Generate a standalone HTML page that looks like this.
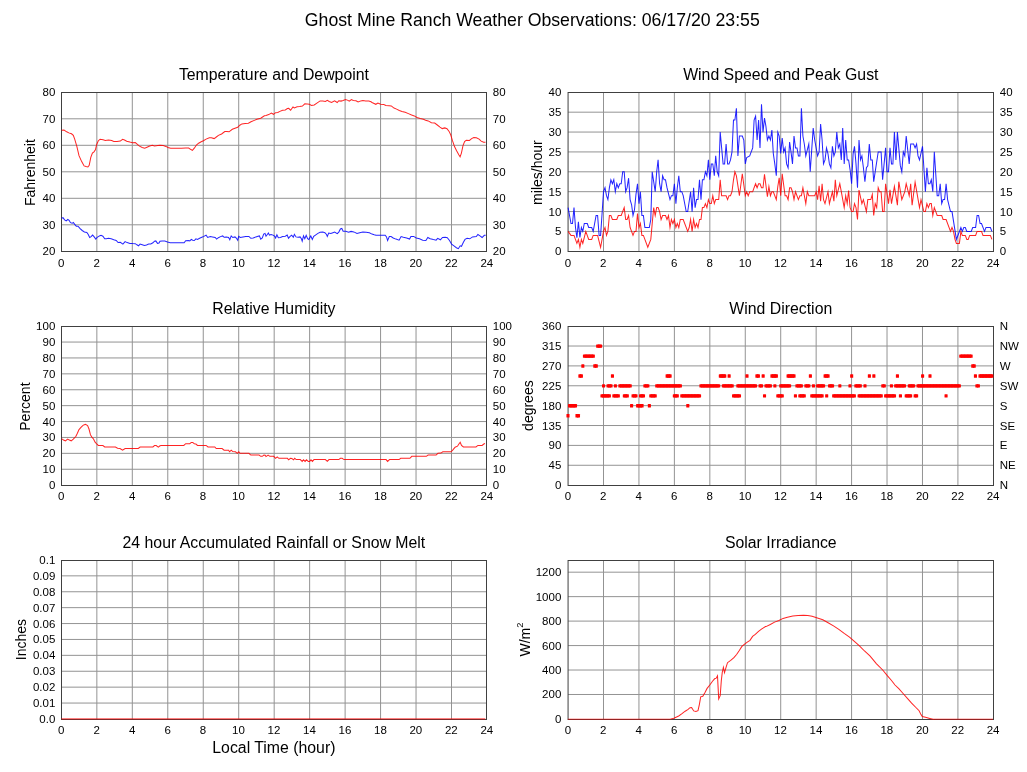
<!DOCTYPE html>
<html lang="en"><head><meta charset="utf-8"><title>Ghost Mine Ranch Weather Observations</title>
<style>html,body{margin:0;padding:0;background:#fff}body{width:1027px;height:772px;overflow:hidden}svg{display:block}</style></head>
<body>
<svg width="1027" height="772" viewBox="0 0 1027 772" font-family="'Liberation Sans', Arial, Helvetica, sans-serif" fill="#000">
<rect width="1027" height="772" fill="#fff"/>
<text x="532.3" y="26.4" font-size="17.7" text-anchor="middle">Ghost Mine Ranch Weather Observations: 06/17/20 23:55</text>
<g stroke="#939393" stroke-width="1" fill="none"><line x1="96.85" y1="92.5" x2="96.85" y2="251.5"/><line x1="132.31" y1="92.5" x2="132.31" y2="251.5"/><line x1="167.78" y1="92.5" x2="167.78" y2="251.5"/><line x1="203.25" y1="92.5" x2="203.25" y2="251.5"/><line x1="238.71" y1="92.5" x2="238.71" y2="251.5"/><line x1="274.18" y1="92.5" x2="274.18" y2="251.5"/><line x1="309.64" y1="92.5" x2="309.64" y2="251.5"/><line x1="345.11" y1="92.5" x2="345.11" y2="251.5"/><line x1="380.57" y1="92.5" x2="380.57" y2="251.5"/><line x1="416.04" y1="92.5" x2="416.04" y2="251.5"/><line x1="451.50" y1="92.5" x2="451.50" y2="251.5"/><line x1="61.5" y1="224.80" x2="486.5" y2="224.80"/><line x1="61.5" y1="198.30" x2="486.5" y2="198.30"/><line x1="61.5" y1="171.80" x2="486.5" y2="171.80"/><line x1="61.5" y1="145.30" x2="486.5" y2="145.30"/><line x1="61.5" y1="118.80" x2="486.5" y2="118.80"/></g>
<rect x="61.5" y="92.5" width="425.00" height="159" fill="none" stroke="#404040" stroke-width="1"/>
<text x="273.9" y="80.2" font-size="15.83" text-anchor="middle">Temperature and Dewpoint</text>
<g font-size="11.5"><text x="61.2" y="267" text-anchor="middle">0</text><text x="96.6" y="267" text-anchor="middle">2</text><text x="132.1" y="267" text-anchor="middle">4</text><text x="167.6" y="267" text-anchor="middle">6</text><text x="203.0" y="267" text-anchor="middle">8</text><text x="238.5" y="267" text-anchor="middle">10</text><text x="274.0" y="267" text-anchor="middle">12</text><text x="309.4" y="267" text-anchor="middle">14</text><text x="344.9" y="267" text-anchor="middle">16</text><text x="380.4" y="267" text-anchor="middle">18</text><text x="415.8" y="267" text-anchor="middle">20</text><text x="451.3" y="267" text-anchor="middle">22</text><text x="486.8" y="267" text-anchor="middle">24</text><text x="55.3" y="255" text-anchor="end">20</text><text x="55.3" y="229" text-anchor="end">30</text><text x="55.3" y="202" text-anchor="end">40</text><text x="55.3" y="176" text-anchor="end">50</text><text x="55.3" y="149" text-anchor="end">60</text><text x="55.3" y="123" text-anchor="end">70</text><text x="55.3" y="96" text-anchor="end">80</text><text x="492.8" y="255">20</text><text x="492.8" y="229">30</text><text x="492.8" y="202">40</text><text x="492.8" y="176">50</text><text x="492.8" y="149">60</text><text x="492.8" y="123">70</text><text x="492.8" y="96">80</text></g>
<text transform="translate(35,172.6) rotate(-90)" font-size="14" text-anchor="middle">Fahrenheit</text>
<path d="M61.6,130.3 L64.0,130.0 L66.7,131.8 L68.8,132.9 L71.5,133.8 L73.3,135.4 L74.7,139.1 L76.9,146.6 L79.0,155.7 L81.7,161.6 L84.1,165.9 L86.0,166.6 L87.9,167.0 L89.2,165.4 L90.8,157.3 L92.4,153.1 L94.0,151.8 L95.4,149.8 L96.7,144.5 L98.3,140.7 L100.1,139.3 L103.1,139.8 L105.3,140.4 L108.5,140.0 L111.7,140.6 L113.8,141.5 L117.0,141.5 L120.3,141.1 L122.6,139.3 L124.5,140.0 L126.7,141.3 L129.9,142.1 L132.6,142.7 L135.3,142.6 L137.4,144.3 L139.5,146.1 L142.2,147.5 L144.7,148.2 L147.0,147.2 L149.7,146.1 L152.4,145.3 L154.5,146.1 L157.8,145.6 L160.0,145.3 L163.2,145.6 L165.9,146.4 L168.0,147.5 L170.7,148.2 L176.1,148.2 L181.4,148.2 L185.7,148.1 L188.7,148.1 L190.5,149.3 L192.4,150.4 L194.3,148.2 L196.4,145.0 L198.6,143.2 L201.2,141.8 L203.4,140.7 L206.1,139.1 L209.3,137.8 L211.4,137.8 L214.1,138.6 L215.7,137.5 L218.4,135.4 L221.6,134.0 L224.8,131.6 L226.9,131.4 L229.1,131.8 L232.3,129.3 L235.0,128.2 L237.7,127.3 L239.8,125.2 L241.9,123.9 L245.2,123.4 L248.4,123.3 L251.0,121.8 L254.3,120.4 L256.9,119.3 L260.7,118.2 L264.4,115.8 L266.0,115.4 L268.7,114.6 L271.4,113.0 L273.5,114.3 L275.6,112.7 L277.8,112.5 L279.9,111.4 L282.6,110.3 L285.3,110.0 L287.4,108.6 L288.7,108.4 L290.6,110.2 L293.0,107.0 L294.4,107.9 L297.1,106.8 L299.7,106.5 L302.4,106.1 L304.8,103.9 L307.2,104.1 L309.4,104.3 L311.5,105.4 L314.2,105.0 L316.9,103.1 L320.1,100.9 L322.8,100.9 L325.4,101.5 L327.3,100.4 L329.2,101.5 L331.6,102.5 L334.6,100.9 L337.2,102.5 L338.8,100.7 L341.0,101.1 L343.1,100.4 L345.5,99.5 L347.4,100.1 L349.3,101.2 L351.4,99.5 L353.3,100.4 L356.0,100.7 L358.1,102.0 L360.8,100.9 L362.9,100.4 L365.6,100.9 L368.8,101.1 L371.0,101.8 L372.0,102.5 L373.6,103.2 L375.8,104.3 L377.9,103.0 L380.6,104.3 L383.8,104.5 L385.9,105.4 L389.1,105.7 L391.3,105.9 L394.0,108.1 L396.6,109.1 L399.3,110.5 L402.0,111.5 L405.2,112.3 L408.4,113.6 L411.6,115.0 L414.3,115.9 L417.0,117.5 L420.2,118.5 L423.4,119.3 L425.6,120.2 L428.2,120.9 L431.4,122.7 L434.7,123.1 L437.3,125.0 L440.0,127.1 L442.2,128.6 L444.8,127.9 L447.0,128.7 L449.1,131.4 L450.7,134.8 L452.3,140.2 L454.5,146.6 L456.6,150.7 L458.8,154.7 L460.1,156.8 L461.4,153.1 L463.0,145.6 L464.6,141.6 L466.3,140.2 L469.5,140.4 L471.6,138.6 L473.8,137.5 L476.4,137.7 L479.1,139.1 L481.2,141.1 L483.6,142.3 L485.5,142.3" fill="none" stroke="#f00" stroke-width="1.02" stroke-opacity="0.86" stroke-linejoin="miter" stroke-miterlimit="7"/>
<path d="M61.6,218.2 L63.0,217.7 L64.6,219.8 L66.2,220.9 L67.8,219.5 L69.1,220.3 L70.5,222.7 L72.1,223.3 L73.3,222.5 L74.7,224.4 L76.3,226.2 L78.0,226.2 L80.1,228.7 L82.2,230.5 L84.4,231.9 L86.8,232.4 L88.1,234.3 L89.7,237.5 L91.1,236.6 L92.6,235.1 L94.0,236.6 L95.8,239.1 L97.2,237.3 L99.4,235.9 L101.0,235.3 L102.9,236.2 L104.7,238.8 L106.3,238.8 L108.5,238.3 L111.2,238.8 L113.8,239.8 L116.2,240.5 L118.1,242.5 L120.3,242.3 L122.9,244.1 L125.1,241.6 L127.2,242.6 L129.9,243.4 L132.6,243.6 L135.3,243.7 L136.9,244.8 L138.5,245.8 L140.1,244.1 L142.2,244.8 L144.4,245.5 L146.5,245.0 L148.7,244.1 L150.8,243.9 L152.9,242.8 L154.5,241.2 L155.8,240.9 L157.5,243.4 L159.0,243.1 L160.0,241.2 L162.1,240.9 L164.8,241.1 L167.5,242.0 L170.2,242.8 L173.9,242.8 L178.2,242.8 L184.1,242.8 L185.7,240.7 L188.4,240.5 L189.8,240.9 L191.3,239.4 L192.7,240.2 L194.3,240.5 L195.9,238.8 L197.5,239.4 L199.6,238.3 L201.8,237.3 L203.9,236.4 L206.1,235.1 L207.7,237.5 L210.3,236.6 L212.5,236.9 L215.2,237.5 L216.6,239.1 L218.4,237.7 L220.5,236.6 L222.7,235.9 L224.1,237.3 L226.4,236.9 L228.6,237.5 L229.8,239.8 L231.2,235.9 L232.8,237.5 L235.0,236.9 L236.3,238.0 L237.7,240.2 L238.7,236.4 L240.3,237.5 L243.0,236.9 L245.7,236.4 L248.9,236.4 L250.8,238.3 L253.2,238.0 L255.9,236.9 L258.0,236.2 L259.4,235.9 L260.7,239.1 L262.3,238.0 L263.7,234.1 L265.0,233.4 L266.0,236.2 L267.3,234.5 L268.4,233.0 L269.4,235.1 L271.1,234.5 L273.0,235.1 L274.6,236.2 L275.6,238.0 L276.9,234.8 L278.3,237.7 L280.5,237.5 L282.6,236.6 L285.3,236.2 L287.2,235.1 L288.5,238.3 L290.1,236.4 L291.7,235.3 L293.3,237.3 L294.4,234.3 L296.0,236.9 L298.1,237.3 L300.1,236.9 L301.4,238.8 L302.2,241.2 L303.5,235.9 L304.8,238.8 L306.2,235.3 L307.6,238.6 L308.8,239.4 L310.8,235.9 L312.3,239.4 L313.7,236.4 L315.8,234.8 L317.9,233.4 L320.1,232.3 L322.8,232.1 L324.9,232.7 L326.5,234.5 L327.3,236.4 L328.7,233.0 L330.8,233.4 L332.9,232.7 L334.6,232.1 L337.2,233.7 L338.8,232.1 L340.4,228.9 L341.8,228.4 L343.1,231.3 L345.8,231.3 L348.5,232.3 L351.1,231.4 L353.8,231.9 L357.0,233.4 L359.7,232.7 L362.9,232.1 L366.1,232.3 L369.4,232.7 L372.0,234.1 L374.2,234.8 L376.0,235.3 L382.0,235.3 L385.2,235.3 L386.5,236.9 L387.6,240.5 L389.3,236.6 L391.1,236.6 L393.2,238.0 L395.9,239.1 L399.1,240.2 L401.1,236.6 L403.4,237.3 L406.6,238.0 L409.6,239.1 L410.9,236.6 L413.6,236.4 L416.3,238.0 L419.5,238.8 L422.7,240.2 L425.9,240.5 L427.8,237.5 L430.2,238.8 L433.4,239.6 L436.1,240.2 L437.7,238.3 L440.4,239.8 L442.5,237.5 L445.2,237.3 L447.3,237.7 L449.5,240.5 L451.6,244.1 L454.3,246.1 L456.4,247.7 L458.3,248.7 L460.2,245.8 L461.5,246.3 L463.4,242.3 L465.0,239.4 L467.1,238.3 L469.8,238.8 L472.5,236.9 L476.3,236.6 L477.9,234.5 L480.0,235.9 L482.1,237.5 L484.3,235.3 L485.7,235.3" fill="none" stroke="#00f" stroke-width="1.02" stroke-opacity="0.86" stroke-linejoin="miter" stroke-miterlimit="7"/>
<g stroke="#939393" stroke-width="1" fill="none"><line x1="603.51" y1="92.5" x2="603.51" y2="251.5"/><line x1="638.95" y1="92.5" x2="638.95" y2="251.5"/><line x1="674.39" y1="92.5" x2="674.39" y2="251.5"/><line x1="709.83" y1="92.5" x2="709.83" y2="251.5"/><line x1="745.27" y1="92.5" x2="745.27" y2="251.5"/><line x1="780.71" y1="92.5" x2="780.71" y2="251.5"/><line x1="816.15" y1="92.5" x2="816.15" y2="251.5"/><line x1="851.59" y1="92.5" x2="851.59" y2="251.5"/><line x1="887.03" y1="92.5" x2="887.03" y2="251.5"/><line x1="922.47" y1="92.5" x2="922.47" y2="251.5"/><line x1="957.91" y1="92.5" x2="957.91" y2="251.5"/><line x1="568.07" y1="231.43" x2="993.5" y2="231.43"/><line x1="568.07" y1="211.55" x2="993.5" y2="211.55"/><line x1="568.07" y1="191.68" x2="993.5" y2="191.68"/><line x1="568.07" y1="171.80" x2="993.5" y2="171.80"/><line x1="568.07" y1="151.93" x2="993.5" y2="151.93"/><line x1="568.07" y1="132.05" x2="993.5" y2="132.05"/><line x1="568.07" y1="112.18" x2="993.5" y2="112.18"/></g>
<rect x="568.07" y="92.5" width="425.43" height="159" fill="none" stroke="#404040" stroke-width="1"/>
<text x="780.8" y="80.2" font-size="15.83" text-anchor="middle">Wind Speed and Peak Gust</text>
<g font-size="11.5"><text x="567.9" y="267" text-anchor="middle">0</text><text x="603.3" y="267" text-anchor="middle">2</text><text x="638.8" y="267" text-anchor="middle">4</text><text x="674.2" y="267" text-anchor="middle">6</text><text x="709.6" y="267" text-anchor="middle">8</text><text x="745.1" y="267" text-anchor="middle">10</text><text x="780.5" y="267" text-anchor="middle">12</text><text x="816.0" y="267" text-anchor="middle">14</text><text x="851.4" y="267" text-anchor="middle">16</text><text x="886.8" y="267" text-anchor="middle">18</text><text x="922.3" y="267" text-anchor="middle">20</text><text x="957.7" y="267" text-anchor="middle">22</text><text x="993.1" y="267" text-anchor="middle">24</text><text x="561.3" y="255" text-anchor="end">0</text><text x="561.3" y="235" text-anchor="end">5</text><text x="561.3" y="216" text-anchor="end">10</text><text x="561.3" y="196" text-anchor="end">15</text><text x="561.3" y="176" text-anchor="end">20</text><text x="561.3" y="156" text-anchor="end">25</text><text x="561.3" y="136" text-anchor="end">30</text><text x="561.3" y="116" text-anchor="end">35</text><text x="561.3" y="96" text-anchor="end">40</text><text x="999.8" y="255">0</text><text x="999.8" y="235">5</text><text x="999.8" y="216">10</text><text x="999.8" y="196">15</text><text x="999.8" y="176">20</text><text x="999.8" y="156">25</text><text x="999.8" y="136">30</text><text x="999.8" y="116">35</text><text x="999.8" y="96">40</text></g>
<text transform="translate(542,172.6) rotate(-90)" font-size="14" text-anchor="middle">miles/hour</text>
<path d="M568.1,207.6 L571.0,223.5 L572.5,223.5 L574.0,207.6 L575.5,227.5 L576.9,237.8 L578.4,221.9 L579.9,237.4 L581.4,227.5 L582.8,231.4 L584.3,223.5 L587.3,223.5 L588.7,227.5 L591.7,227.5 L593.2,231.4 L596.1,215.5 L597.6,215.5 L599.1,235.4 L600.6,235.4 L602.0,214.7 L603.5,191.7 L605.0,187.7 L606.5,195.7 L607.9,199.6 L609.4,187.7 L610.9,179.8 L612.4,183.7 L613.8,179.8 L615.3,191.7 L616.8,183.7 L618.3,187.7 L619.8,183.7 L621.2,183.7 L622.7,171.8 L624.2,171.8 L625.7,191.7 L627.1,187.7 L628.6,178.2 L630.1,199.6 L631.6,204.8 L633.0,215.5 L634.5,209.6 L636.0,194.1 L637.5,183.7 L639.0,203.6 L640.4,191.7 L641.9,215.5 L643.4,215.5 L644.9,227.5 L649.3,227.5 L650.8,219.5 L652.2,171.8 L655.2,191.7 L656.7,171.8 L658.1,159.9 L659.6,183.7 L661.1,191.7 L662.6,175.8 L664.1,179.8 L665.5,179.8 L667.0,187.7 L668.5,193.7 L670.0,199.6 L671.4,195.7 L672.9,195.7 L674.4,183.7 L675.9,203.6 L677.3,187.7 L678.8,175.8 L680.3,191.7 L681.8,191.7 L683.2,195.7 L686.2,211.6 L687.7,211.6 L690.6,191.7 L692.1,211.6 L693.6,187.7 L695.1,207.6 L696.5,199.6 L698.0,199.6 L699.5,179.8 L701.0,199.6 L702.4,179.8 L703.9,179.8 L705.4,171.8 L706.9,175.8 L708.4,159.9 L709.8,179.8 L711.3,163.9 L712.8,163.9 L714.3,175.8 L715.7,155.9 L717.2,171.8 L718.7,175.8 L720.2,132.1 L723.1,163.9 L724.6,163.9 L726.1,144.0 L727.6,163.9 L729.0,163.9 L730.5,159.9 L732.0,151.9 L733.5,120.1 L734.9,120.1 L736.4,108.2 L737.9,155.9 L739.4,136.0 L742.3,136.0 L743.8,140.0 L745.3,163.9 L746.7,157.5 L749.7,155.9 L751.2,151.9 L752.7,147.9 L754.1,120.1 L755.6,116.2 L757.1,140.0 L758.6,120.1 L760.0,147.9 L761.5,104.2 L763.0,132.1 L764.5,118.1 L765.9,126.1 L767.4,140.0 L768.9,136.0 L770.4,140.0 L771.9,130.1 L773.3,153.5 L774.8,163.9 L776.3,175.8 L777.8,132.1 L779.2,136.0 L780.7,153.5 L782.2,138.0 L783.7,151.9 L785.1,147.9 L786.6,163.9 L788.1,167.8 L789.6,142.0 L791.0,151.9 L792.5,163.9 L794.0,136.0 L795.5,147.9 L797.0,147.9 L798.4,155.9 L799.9,155.9 L801.4,108.2 L802.9,136.0 L804.3,144.0 L805.8,155.9 L808.8,144.0 L810.2,171.8 L813.2,128.1 L814.7,140.0 L817.6,155.9 L819.1,151.9 L820.6,124.1 L822.1,140.0 L823.5,163.9 L825.0,159.9 L826.5,147.9 L828.0,153.9 L829.4,163.9 L830.9,167.8 L832.4,146.4 L833.9,155.9 L835.3,151.9 L836.8,132.1 L838.3,147.9 L839.8,144.0 L841.3,159.9 L842.7,128.1 L844.2,163.9 L845.7,140.0 L847.2,159.9 L848.6,159.9 L850.1,169.8 L851.6,183.7 L853.1,153.9 L854.5,146.4 L856.0,163.9 L857.5,187.7 L859.0,140.0 L860.5,159.9 L861.9,155.9 L863.4,167.8 L864.9,181.7 L866.4,167.8 L867.8,165.8 L869.3,144.0 L870.8,159.9 L872.3,159.9 L873.7,181.7 L878.2,151.9 L881.1,151.9 L882.6,179.8 L885.6,147.9 L887.0,171.8 L888.5,171.8 L890.0,147.9 L891.5,163.9 L892.9,163.9 L894.4,132.1 L895.9,159.9 L897.4,132.1 L900.3,165.4 L901.8,171.8 L903.3,151.9 L904.8,155.9 L906.2,136.0 L909.2,163.9 L910.7,144.0 L913.6,144.0 L915.1,147.9 L916.6,144.0 L918.0,155.9 L919.5,159.9 L922.5,146.4 L925.4,191.7 L926.9,167.8 L928.4,183.7 L929.9,183.7 L931.3,179.8 L932.8,191.7 L934.3,151.9 L937.2,195.7 L938.7,195.7 L940.2,183.7 L941.7,203.6 L943.1,199.6 L944.6,199.6 L946.1,183.7 L947.6,199.6 L950.5,211.6 L952.0,211.6 L956.4,239.4 L960.9,227.5 L962.3,231.4 L963.8,227.5 L965.3,227.5 L966.8,231.4 L971.2,231.4 L972.7,227.5 L975.6,227.5 L977.1,215.5 L978.6,215.5 L980.1,223.5 L981.5,223.5 L984.5,231.4 L986.0,227.5 L990.4,227.5 L991.9,231.4" fill="none" stroke="#00f" stroke-width="1.02" stroke-opacity="0.86" stroke-linejoin="miter" stroke-miterlimit="7"/>
<path d="M568.1,231.4 L571.0,235.4 L574.0,235.4 L576.9,243.4 L578.4,239.4 L579.9,247.3 L581.4,239.4 L582.8,243.4 L585.8,231.4 L588.7,239.4 L591.7,239.4 L593.2,235.4 L597.6,235.4 L600.6,247.3 L603.5,231.4 L605.0,227.5 L606.5,235.4 L607.9,231.4 L609.4,215.5 L610.9,215.5 L612.4,219.5 L616.8,219.5 L618.3,215.5 L621.2,215.5 L624.2,207.6 L625.7,219.5 L627.1,219.5 L628.6,215.5 L630.1,227.5 L633.0,235.4 L634.5,231.4 L636.0,231.4 L637.5,213.5 L639.0,227.5 L640.4,223.5 L641.9,235.4 L643.4,235.4 L647.8,247.3 L650.8,239.4 L652.2,223.5 L653.7,207.6 L655.2,215.5 L656.7,207.6 L658.1,207.6 L659.6,211.6 L661.1,219.5 L662.6,215.5 L665.5,215.5 L667.0,219.5 L668.5,215.5 L670.0,227.5 L671.4,219.5 L672.9,223.5 L674.4,219.5 L675.9,227.5 L677.3,223.5 L678.8,227.5 L680.3,219.5 L683.2,219.5 L687.7,231.4 L689.2,227.5 L690.6,219.5 L692.1,231.4 L693.6,219.5 L695.1,227.5 L696.5,223.5 L698.0,227.5 L699.5,219.5 L701.0,219.5 L702.4,207.6 L703.9,207.6 L705.4,203.6 L706.9,207.6 L708.4,199.6 L709.8,203.6 L711.3,203.6 L712.8,195.7 L714.3,203.6 L715.7,199.6 L718.7,199.6 L720.2,179.8 L721.6,195.7 L726.1,195.7 L727.6,199.6 L729.0,195.7 L730.5,195.7 L732.0,191.7 L733.5,179.8 L734.9,171.8 L736.4,175.8 L739.4,195.7 L742.3,173.8 L745.3,195.7 L746.7,191.7 L748.2,195.7 L749.7,191.7 L752.7,191.7 L754.1,187.7 L755.6,183.7 L757.1,187.7 L758.6,183.7 L760.0,183.7 L761.5,187.7 L763.0,187.7 L764.5,174.2 L767.4,196.8 L768.9,186.5 L770.4,195.7 L771.9,191.7 L773.3,191.7 L776.3,199.6 L777.8,186.5 L779.2,177.8 L780.7,195.7 L782.2,173.8 L785.1,195.7 L786.6,195.7 L788.1,199.6 L789.6,187.7 L791.0,187.7 L792.5,191.7 L794.0,199.6 L795.5,191.7 L798.4,199.6 L799.9,195.7 L801.4,195.7 L802.9,187.7 L805.8,203.6 L807.3,191.7 L808.8,195.7 L814.7,195.7 L816.2,191.7 L817.6,199.6 L819.1,185.7 L820.6,201.2 L822.1,183.7 L823.5,199.6 L825.0,203.6 L828.0,191.7 L829.4,203.6 L832.4,191.7 L833.9,201.2 L835.3,179.8 L836.8,195.7 L839.8,183.7 L841.3,191.7 L844.2,207.6 L845.7,195.7 L847.2,203.6 L848.6,190.5 L850.1,207.6 L851.6,211.6 L853.1,211.6 L854.5,203.6 L856.0,207.6 L857.5,219.5 L859.0,190.1 L861.9,203.6 L863.4,199.6 L866.4,211.6 L867.8,199.6 L870.8,199.6 L872.3,194.5 L873.7,215.5 L875.2,203.6 L876.7,207.6 L878.2,187.7 L879.6,191.7 L881.1,191.7 L882.6,211.6 L884.1,211.6 L885.6,183.7 L888.5,203.6 L890.0,189.7 L891.5,203.6 L894.4,186.5 L897.4,205.2 L898.8,181.7 L901.8,199.6 L903.3,195.7 L904.8,191.7 L906.2,183.7 L909.2,195.7 L910.7,183.7 L912.1,205.2 L915.1,182.1 L919.5,207.6 L921.0,199.6 L923.9,211.6 L925.4,211.6 L926.9,203.6 L928.4,207.6 L929.9,203.6 L931.3,203.6 L932.8,215.5 L934.3,207.6 L935.8,211.6 L937.2,215.5 L941.7,215.5 L943.1,219.5 L946.1,219.5 L950.5,231.4 L952.0,227.5 L953.5,231.4 L955.0,239.4 L956.4,243.4 L959.4,243.4 L960.9,231.4 L962.3,235.4 L965.3,235.4 L966.8,239.4 L968.2,239.4 L969.7,235.4 L975.6,235.4 L977.1,231.4 L981.5,231.4 L983.0,235.4 L990.4,235.4 L991.9,239.4" fill="none" stroke="#f00" stroke-width="1.02" stroke-opacity="0.86" stroke-linejoin="miter" stroke-miterlimit="7"/>
<g stroke="#939393" stroke-width="1" fill="none"><line x1="96.85" y1="326.5" x2="96.85" y2="485.5"/><line x1="132.31" y1="326.5" x2="132.31" y2="485.5"/><line x1="167.78" y1="326.5" x2="167.78" y2="485.5"/><line x1="203.25" y1="326.5" x2="203.25" y2="485.5"/><line x1="238.71" y1="326.5" x2="238.71" y2="485.5"/><line x1="274.18" y1="326.5" x2="274.18" y2="485.5"/><line x1="309.64" y1="326.5" x2="309.64" y2="485.5"/><line x1="345.11" y1="326.5" x2="345.11" y2="485.5"/><line x1="380.57" y1="326.5" x2="380.57" y2="485.5"/><line x1="416.04" y1="326.5" x2="416.04" y2="485.5"/><line x1="451.50" y1="326.5" x2="451.50" y2="485.5"/><line x1="61.5" y1="469.25" x2="486.5" y2="469.25"/><line x1="61.5" y1="453.35" x2="486.5" y2="453.35"/><line x1="61.5" y1="437.45" x2="486.5" y2="437.45"/><line x1="61.5" y1="421.55" x2="486.5" y2="421.55"/><line x1="61.5" y1="405.65" x2="486.5" y2="405.65"/><line x1="61.5" y1="389.75" x2="486.5" y2="389.75"/><line x1="61.5" y1="373.85" x2="486.5" y2="373.85"/><line x1="61.5" y1="357.95" x2="486.5" y2="357.95"/><line x1="61.5" y1="342.05" x2="486.5" y2="342.05"/></g>
<rect x="61.5" y="326.5" width="425.00" height="159" fill="none" stroke="#404040" stroke-width="1"/>
<text x="273.9" y="314.2" font-size="15.83" text-anchor="middle">Relative Humidity</text>
<g font-size="11.5"><text x="61.2" y="500" text-anchor="middle">0</text><text x="96.6" y="500" text-anchor="middle">2</text><text x="132.1" y="500" text-anchor="middle">4</text><text x="167.6" y="500" text-anchor="middle">6</text><text x="203.0" y="500" text-anchor="middle">8</text><text x="238.5" y="500" text-anchor="middle">10</text><text x="274.0" y="500" text-anchor="middle">12</text><text x="309.4" y="500" text-anchor="middle">14</text><text x="344.9" y="500" text-anchor="middle">16</text><text x="380.4" y="500" text-anchor="middle">18</text><text x="415.8" y="500" text-anchor="middle">20</text><text x="451.3" y="500" text-anchor="middle">22</text><text x="486.8" y="500" text-anchor="middle">24</text><text x="55.3" y="489" text-anchor="end">0</text><text x="55.3" y="473" text-anchor="end">10</text><text x="55.3" y="457" text-anchor="end">20</text><text x="55.3" y="441" text-anchor="end">30</text><text x="55.3" y="426" text-anchor="end">40</text><text x="55.3" y="410" text-anchor="end">50</text><text x="55.3" y="394" text-anchor="end">60</text><text x="55.3" y="378" text-anchor="end">70</text><text x="55.3" y="362" text-anchor="end">80</text><text x="55.3" y="346" text-anchor="end">90</text><text x="55.3" y="330" text-anchor="end">100</text><text x="492.8" y="489">0</text><text x="492.8" y="473">10</text><text x="492.8" y="457">20</text><text x="492.8" y="441">30</text><text x="492.8" y="426">40</text><text x="492.8" y="410">50</text><text x="492.8" y="394">60</text><text x="492.8" y="378">70</text><text x="492.8" y="362">80</text><text x="492.8" y="346">90</text><text x="492.8" y="330">100</text></g>
<text transform="translate(30,406.6) rotate(-90)" font-size="14" text-anchor="middle">Percent</text>
<path d="M61.6,438.7 L63.5,440.1 L65.4,440.8 L67.6,439.0 L69.4,440.1 L71.2,440.8 L73.3,439.2 L75.8,436.5 L77.4,433.3 L79.0,429.6 L81.2,427.2 L83.3,425.1 L85.5,424.4 L87.6,425.5 L89.0,429.0 L90.5,434.9 L91.9,437.1 L93.5,439.0 L95.1,442.2 L96.7,444.0 L98.3,445.4 L100.5,445.6 L102.9,445.6 L104.7,447.0 L109.5,447.0 L115.4,447.0 L117.6,448.3 L120.0,448.5 L122.6,450.2 L125.1,448.5 L131.0,448.5 L138.3,448.5 L140.1,447.0 L144.9,447.0 L152.9,447.0 L154.5,445.6 L156.2,445.6 L158.3,447.2 L160.0,445.8 L161.3,445.4 L170.7,445.4 L183.8,445.4 L185.7,443.7 L189.8,443.7 L191.3,442.4 L192.7,442.4 L194.3,443.7 L195.9,444.0 L197.5,445.4 L206.1,445.4 L208.0,447.0 L214.8,447.0 L216.2,448.5 L222.1,448.5 L224.1,450.2 L228.6,450.2 L229.6,451.8 L231.2,450.2 L232.8,451.6 L235.5,451.8 L237.3,453.3 L238.7,451.8 L240.1,453.3 L248.9,453.3 L250.8,455.1 L259.1,455.1 L260.7,456.3 L262.3,456.3 L263.9,455.1 L265.2,455.3 L266.0,456.6 L268.1,455.1 L269.8,456.3 L273.7,456.3 L275.6,458.3 L277.2,456.9 L278.9,458.3 L287.4,458.3 L288.7,459.8 L290.4,458.3 L291.9,458.5 L293.6,459.8 L294.7,458.3 L296.2,459.6 L300.3,459.6 L302.2,461.4 L303.5,459.8 L305.1,461.4 L306.5,459.8 L308.3,461.4 L309.7,461.4 L311.0,459.8 L312.4,461.4 L314.0,459.6 L325.4,459.6 L327.3,461.4 L329.0,459.6 L338.8,459.6 L340.4,458.3 L342.1,458.3 L344.0,459.6 L376.0,459.6 L382.0,459.6 L386.1,459.6 L387.6,461.4 L389.5,459.6 L399.1,459.6 L400.7,458.3 L409.9,458.3 L411.8,456.3 L426.4,456.3 L428.1,455.1 L436.1,455.1 L437.9,453.3 L440.9,453.1 L442.8,451.8 L451.1,451.8 L452.9,449.9 L455.1,447.2 L457.5,446.2 L458.9,444.0 L460.2,442.2 L461.5,445.4 L463.4,447.0 L476.0,447.0 L477.9,445.4 L482.1,445.4 L483.8,444.0 L485.0,443.5" fill="none" stroke="#f00" stroke-width="1.02" stroke-opacity="0.86" stroke-linejoin="miter" stroke-miterlimit="7"/>
<g stroke="#939393" stroke-width="1" fill="none"><line x1="603.51" y1="326.5" x2="603.51" y2="485.5"/><line x1="638.95" y1="326.5" x2="638.95" y2="485.5"/><line x1="674.39" y1="326.5" x2="674.39" y2="485.5"/><line x1="709.83" y1="326.5" x2="709.83" y2="485.5"/><line x1="745.27" y1="326.5" x2="745.27" y2="485.5"/><line x1="780.71" y1="326.5" x2="780.71" y2="485.5"/><line x1="816.15" y1="326.5" x2="816.15" y2="485.5"/><line x1="851.59" y1="326.5" x2="851.59" y2="485.5"/><line x1="887.03" y1="326.5" x2="887.03" y2="485.5"/><line x1="922.47" y1="326.5" x2="922.47" y2="485.5"/><line x1="957.91" y1="326.5" x2="957.91" y2="485.5"/><line x1="568.07" y1="465.27" x2="993.5" y2="465.27"/><line x1="568.07" y1="445.40" x2="993.5" y2="445.40"/><line x1="568.07" y1="425.52" x2="993.5" y2="425.52"/><line x1="568.07" y1="405.65" x2="993.5" y2="405.65"/><line x1="568.07" y1="385.77" x2="993.5" y2="385.77"/><line x1="568.07" y1="365.90" x2="993.5" y2="365.90"/><line x1="568.07" y1="346.02" x2="993.5" y2="346.02"/></g>
<rect x="568.07" y="326.5" width="425.43" height="159" fill="none" stroke="#404040" stroke-width="1"/>
<text x="780.8" y="314.2" font-size="15.83" text-anchor="middle">Wind Direction</text>
<g font-size="11.5"><text x="567.9" y="500" text-anchor="middle">0</text><text x="603.3" y="500" text-anchor="middle">2</text><text x="638.8" y="500" text-anchor="middle">4</text><text x="674.2" y="500" text-anchor="middle">6</text><text x="709.6" y="500" text-anchor="middle">8</text><text x="745.1" y="500" text-anchor="middle">10</text><text x="780.5" y="500" text-anchor="middle">12</text><text x="816.0" y="500" text-anchor="middle">14</text><text x="851.4" y="500" text-anchor="middle">16</text><text x="886.8" y="500" text-anchor="middle">18</text><text x="922.3" y="500" text-anchor="middle">20</text><text x="957.7" y="500" text-anchor="middle">22</text><text x="993.1" y="500" text-anchor="middle">24</text><text x="561.3" y="489" text-anchor="end">0</text><text x="561.3" y="469" text-anchor="end">45</text><text x="561.3" y="449" text-anchor="end">90</text><text x="561.3" y="430" text-anchor="end">135</text><text x="561.3" y="410" text-anchor="end">180</text><text x="561.3" y="390" text-anchor="end">225</text><text x="561.3" y="370" text-anchor="end">270</text><text x="561.3" y="350" text-anchor="end">315</text><text x="561.3" y="330" text-anchor="end">360</text><text x="999.8" y="489">N</text><text x="999.8" y="469">NE</text><text x="999.8" y="449">E</text><text x="999.8" y="430">SE</text><text x="999.8" y="410">S</text><text x="999.8" y="390">SW</text><text x="999.8" y="370">W</text><text x="999.8" y="350">NW</text><text x="999.8" y="330">N</text></g>
<text transform="translate(533,405.6) rotate(-90)" font-size="14" text-anchor="middle">degrees</text>
<g fill="#f00"><rect x="596.12" y="344.47" width="3.1" height="3.4" rx="0.5"/><rect x="597.60" y="344.47" width="3.1" height="3.4" rx="0.5"/><rect x="599.08" y="344.47" width="3.1" height="3.4" rx="0.5"/><rect x="582.90" y="354.41" width="3.1" height="3.4" rx="0.5"/><rect x="584.37" y="354.41" width="3.1" height="3.4" rx="0.5"/><rect x="585.85" y="354.41" width="3.1" height="3.4" rx="0.5"/><rect x="587.33" y="354.41" width="3.1" height="3.4" rx="0.5"/><rect x="588.80" y="354.41" width="3.1" height="3.4" rx="0.5"/><rect x="590.28" y="354.41" width="3.1" height="3.4" rx="0.5"/><rect x="591.76" y="354.41" width="3.1" height="3.4" rx="0.5"/><rect x="959.23" y="354.41" width="3.1" height="3.4" rx="0.5"/><rect x="960.70" y="354.41" width="3.1" height="3.4" rx="0.5"/><rect x="962.18" y="354.41" width="3.1" height="3.4" rx="0.5"/><rect x="963.66" y="354.41" width="3.1" height="3.4" rx="0.5"/><rect x="965.13" y="354.41" width="3.1" height="3.4" rx="0.5"/><rect x="966.61" y="354.41" width="3.1" height="3.4" rx="0.5"/><rect x="968.09" y="354.41" width="3.1" height="3.4" rx="0.5"/><rect x="969.56" y="354.41" width="3.1" height="3.4" rx="0.5"/><rect x="581.29" y="364.35" width="3.1" height="3.4" rx="0.5"/><rect x="593.26" y="364.35" width="3.1" height="3.4" rx="0.5"/><rect x="594.74" y="364.35" width="3.1" height="3.4" rx="0.5"/><rect x="971.21" y="364.35" width="3.1" height="3.4" rx="0.5"/><rect x="972.68" y="364.35" width="3.1" height="3.4" rx="0.5"/><rect x="578.36" y="374.29" width="3.1" height="3.4" rx="0.5"/><rect x="579.84" y="374.29" width="3.1" height="3.4" rx="0.5"/><rect x="610.89" y="374.29" width="3.1" height="3.4" rx="0.5"/><rect x="665.59" y="374.29" width="3.1" height="3.4" rx="0.5"/><rect x="667.07" y="374.29" width="3.1" height="3.4" rx="0.5"/><rect x="668.55" y="374.29" width="3.1" height="3.4" rx="0.5"/><rect x="718.79" y="374.29" width="3.1" height="3.4" rx="0.5"/><rect x="720.27" y="374.29" width="3.1" height="3.4" rx="0.5"/><rect x="721.75" y="374.29" width="3.1" height="3.4" rx="0.5"/><rect x="723.22" y="374.29" width="3.1" height="3.4" rx="0.5"/><rect x="727.59" y="374.29" width="3.1" height="3.4" rx="0.5"/><rect x="745.45" y="374.29" width="3.1" height="3.4" rx="0.5"/><rect x="755.37" y="374.29" width="3.1" height="3.4" rx="0.5"/><rect x="756.85" y="374.29" width="3.1" height="3.4" rx="0.5"/><rect x="761.61" y="374.29" width="3.1" height="3.4" rx="0.5"/><rect x="770.40" y="374.29" width="3.1" height="3.4" rx="0.5"/><rect x="771.87" y="374.29" width="3.1" height="3.4" rx="0.5"/><rect x="773.35" y="374.29" width="3.1" height="3.4" rx="0.5"/><rect x="774.83" y="374.29" width="3.1" height="3.4" rx="0.5"/><rect x="786.55" y="374.29" width="3.1" height="3.4" rx="0.5"/><rect x="788.03" y="374.29" width="3.1" height="3.4" rx="0.5"/><rect x="789.51" y="374.29" width="3.1" height="3.4" rx="0.5"/><rect x="790.98" y="374.29" width="3.1" height="3.4" rx="0.5"/><rect x="792.46" y="374.29" width="3.1" height="3.4" rx="0.5"/><rect x="808.84" y="374.29" width="3.1" height="3.4" rx="0.5"/><rect x="823.57" y="374.29" width="3.1" height="3.4" rx="0.5"/><rect x="825.05" y="374.29" width="3.1" height="3.4" rx="0.5"/><rect x="826.52" y="374.29" width="3.1" height="3.4" rx="0.5"/><rect x="850.12" y="374.29" width="3.1" height="3.4" rx="0.5"/><rect x="867.83" y="374.29" width="3.1" height="3.4" rx="0.5"/><rect x="872.31" y="374.29" width="3.1" height="3.4" rx="0.5"/><rect x="895.88" y="374.29" width="3.1" height="3.4" rx="0.5"/><rect x="921.05" y="374.29" width="3.1" height="3.4" rx="0.5"/><rect x="928.44" y="374.29" width="3.1" height="3.4" rx="0.5"/><rect x="973.89" y="374.29" width="3.1" height="3.4" rx="0.5"/><rect x="978.45" y="374.29" width="3.1" height="3.4" rx="0.5"/><rect x="979.93" y="374.29" width="3.1" height="3.4" rx="0.5"/><rect x="981.40" y="374.29" width="3.1" height="3.4" rx="0.5"/><rect x="982.88" y="374.29" width="3.1" height="3.4" rx="0.5"/><rect x="984.36" y="374.29" width="3.1" height="3.4" rx="0.5"/><rect x="985.83" y="374.29" width="3.1" height="3.4" rx="0.5"/><rect x="987.31" y="374.29" width="3.1" height="3.4" rx="0.5"/><rect x="988.79" y="374.29" width="3.1" height="3.4" rx="0.5"/><rect x="990.26" y="374.29" width="3.1" height="3.4" rx="0.5"/><rect x="601.99" y="384.22" width="3.1" height="3.4" rx="0.5"/><rect x="606.49" y="384.22" width="3.1" height="3.4" rx="0.5"/><rect x="607.97" y="384.22" width="3.1" height="3.4" rx="0.5"/><rect x="609.45" y="384.22" width="3.1" height="3.4" rx="0.5"/><rect x="613.86" y="384.22" width="3.1" height="3.4" rx="0.5"/><rect x="618.34" y="384.22" width="3.1" height="3.4" rx="0.5"/><rect x="619.81" y="384.22" width="3.1" height="3.4" rx="0.5"/><rect x="621.29" y="384.22" width="3.1" height="3.4" rx="0.5"/><rect x="622.77" y="384.22" width="3.1" height="3.4" rx="0.5"/><rect x="624.24" y="384.22" width="3.1" height="3.4" rx="0.5"/><rect x="625.72" y="384.22" width="3.1" height="3.4" rx="0.5"/><rect x="627.20" y="384.22" width="3.1" height="3.4" rx="0.5"/><rect x="628.67" y="384.22" width="3.1" height="3.4" rx="0.5"/><rect x="643.35" y="384.22" width="3.1" height="3.4" rx="0.5"/><rect x="644.83" y="384.22" width="3.1" height="3.4" rx="0.5"/><rect x="646.31" y="384.22" width="3.1" height="3.4" rx="0.5"/><rect x="655.21" y="384.22" width="3.1" height="3.4" rx="0.5"/><rect x="656.68" y="384.22" width="3.1" height="3.4" rx="0.5"/><rect x="658.16" y="384.22" width="3.1" height="3.4" rx="0.5"/><rect x="659.64" y="384.22" width="3.1" height="3.4" rx="0.5"/><rect x="661.11" y="384.22" width="3.1" height="3.4" rx="0.5"/><rect x="662.59" y="384.22" width="3.1" height="3.4" rx="0.5"/><rect x="664.07" y="384.22" width="3.1" height="3.4" rx="0.5"/><rect x="665.54" y="384.22" width="3.1" height="3.4" rx="0.5"/><rect x="667.02" y="384.22" width="3.1" height="3.4" rx="0.5"/><rect x="668.50" y="384.22" width="3.1" height="3.4" rx="0.5"/><rect x="669.97" y="384.22" width="3.1" height="3.4" rx="0.5"/><rect x="671.45" y="384.22" width="3.1" height="3.4" rx="0.5"/><rect x="672.93" y="384.22" width="3.1" height="3.4" rx="0.5"/><rect x="674.40" y="384.22" width="3.1" height="3.4" rx="0.5"/><rect x="675.88" y="384.22" width="3.1" height="3.4" rx="0.5"/><rect x="677.36" y="384.22" width="3.1" height="3.4" rx="0.5"/><rect x="678.83" y="384.22" width="3.1" height="3.4" rx="0.5"/><rect x="699.40" y="384.22" width="3.1" height="3.4" rx="0.5"/><rect x="700.87" y="384.22" width="3.1" height="3.4" rx="0.5"/><rect x="702.35" y="384.22" width="3.1" height="3.4" rx="0.5"/><rect x="703.83" y="384.22" width="3.1" height="3.4" rx="0.5"/><rect x="705.30" y="384.22" width="3.1" height="3.4" rx="0.5"/><rect x="706.78" y="384.22" width="3.1" height="3.4" rx="0.5"/><rect x="708.26" y="384.22" width="3.1" height="3.4" rx="0.5"/><rect x="709.73" y="384.22" width="3.1" height="3.4" rx="0.5"/><rect x="711.21" y="384.22" width="3.1" height="3.4" rx="0.5"/><rect x="712.69" y="384.22" width="3.1" height="3.4" rx="0.5"/><rect x="714.16" y="384.22" width="3.1" height="3.4" rx="0.5"/><rect x="715.64" y="384.22" width="3.1" height="3.4" rx="0.5"/><rect x="717.12" y="384.22" width="3.1" height="3.4" rx="0.5"/><rect x="721.79" y="384.22" width="3.1" height="3.4" rx="0.5"/><rect x="723.27" y="384.22" width="3.1" height="3.4" rx="0.5"/><rect x="724.74" y="384.22" width="3.1" height="3.4" rx="0.5"/><rect x="726.22" y="384.22" width="3.1" height="3.4" rx="0.5"/><rect x="727.70" y="384.22" width="3.1" height="3.4" rx="0.5"/><rect x="729.17" y="384.22" width="3.1" height="3.4" rx="0.5"/><rect x="730.65" y="384.22" width="3.1" height="3.4" rx="0.5"/><rect x="736.30" y="384.22" width="3.1" height="3.4" rx="0.5"/><rect x="737.77" y="384.22" width="3.1" height="3.4" rx="0.5"/><rect x="739.25" y="384.22" width="3.1" height="3.4" rx="0.5"/><rect x="740.73" y="384.22" width="3.1" height="3.4" rx="0.5"/><rect x="742.20" y="384.22" width="3.1" height="3.4" rx="0.5"/><rect x="743.68" y="384.22" width="3.1" height="3.4" rx="0.5"/><rect x="745.16" y="384.22" width="3.1" height="3.4" rx="0.5"/><rect x="746.63" y="384.22" width="3.1" height="3.4" rx="0.5"/><rect x="748.11" y="384.22" width="3.1" height="3.4" rx="0.5"/><rect x="749.59" y="384.22" width="3.1" height="3.4" rx="0.5"/><rect x="751.06" y="384.22" width="3.1" height="3.4" rx="0.5"/><rect x="752.54" y="384.22" width="3.1" height="3.4" rx="0.5"/><rect x="754.02" y="384.22" width="3.1" height="3.4" rx="0.5"/><rect x="758.53" y="384.22" width="3.1" height="3.4" rx="0.5"/><rect x="760.01" y="384.22" width="3.1" height="3.4" rx="0.5"/><rect x="764.41" y="384.22" width="3.1" height="3.4" rx="0.5"/><rect x="765.89" y="384.22" width="3.1" height="3.4" rx="0.5"/><rect x="767.36" y="384.22" width="3.1" height="3.4" rx="0.5"/><rect x="768.84" y="384.22" width="3.1" height="3.4" rx="0.5"/><rect x="773.34" y="384.22" width="3.1" height="3.4" rx="0.5"/><rect x="779.19" y="384.22" width="3.1" height="3.4" rx="0.5"/><rect x="780.66" y="384.22" width="3.1" height="3.4" rx="0.5"/><rect x="782.14" y="384.22" width="3.1" height="3.4" rx="0.5"/><rect x="783.62" y="384.22" width="3.1" height="3.4" rx="0.5"/><rect x="785.09" y="384.22" width="3.1" height="3.4" rx="0.5"/><rect x="786.57" y="384.22" width="3.1" height="3.4" rx="0.5"/><rect x="788.05" y="384.22" width="3.1" height="3.4" rx="0.5"/><rect x="795.37" y="384.22" width="3.1" height="3.4" rx="0.5"/><rect x="796.85" y="384.22" width="3.1" height="3.4" rx="0.5"/><rect x="798.32" y="384.22" width="3.1" height="3.4" rx="0.5"/><rect x="799.80" y="384.22" width="3.1" height="3.4" rx="0.5"/><rect x="804.34" y="384.22" width="3.1" height="3.4" rx="0.5"/><rect x="805.82" y="384.22" width="3.1" height="3.4" rx="0.5"/><rect x="807.29" y="384.22" width="3.1" height="3.4" rx="0.5"/><rect x="811.90" y="384.22" width="3.1" height="3.4" rx="0.5"/><rect x="816.10" y="384.22" width="3.1" height="3.4" rx="0.5"/><rect x="817.58" y="384.22" width="3.1" height="3.4" rx="0.5"/><rect x="819.06" y="384.22" width="3.1" height="3.4" rx="0.5"/><rect x="820.53" y="384.22" width="3.1" height="3.4" rx="0.5"/><rect x="822.01" y="384.22" width="3.1" height="3.4" rx="0.5"/><rect x="828.04" y="384.22" width="3.1" height="3.4" rx="0.5"/><rect x="829.52" y="384.22" width="3.1" height="3.4" rx="0.5"/><rect x="831.00" y="384.22" width="3.1" height="3.4" rx="0.5"/><rect x="838.29" y="384.22" width="3.1" height="3.4" rx="0.5"/><rect x="848.41" y="384.22" width="3.1" height="3.4" rx="0.5"/><rect x="854.32" y="384.22" width="3.1" height="3.4" rx="0.5"/><rect x="855.80" y="384.22" width="3.1" height="3.4" rx="0.5"/><rect x="857.27" y="384.22" width="3.1" height="3.4" rx="0.5"/><rect x="858.75" y="384.22" width="3.1" height="3.4" rx="0.5"/><rect x="863.45" y="384.22" width="3.1" height="3.4" rx="0.5"/><rect x="881.26" y="384.22" width="3.1" height="3.4" rx="0.5"/><rect x="882.74" y="384.22" width="3.1" height="3.4" rx="0.5"/><rect x="889.88" y="384.22" width="3.1" height="3.4" rx="0.5"/><rect x="894.12" y="384.22" width="3.1" height="3.4" rx="0.5"/><rect x="895.60" y="384.22" width="3.1" height="3.4" rx="0.5"/><rect x="897.07" y="384.22" width="3.1" height="3.4" rx="0.5"/><rect x="898.55" y="384.22" width="3.1" height="3.4" rx="0.5"/><rect x="900.03" y="384.22" width="3.1" height="3.4" rx="0.5"/><rect x="901.50" y="384.22" width="3.1" height="3.4" rx="0.5"/><rect x="902.98" y="384.22" width="3.1" height="3.4" rx="0.5"/><rect x="907.73" y="384.22" width="3.1" height="3.4" rx="0.5"/><rect x="909.21" y="384.22" width="3.1" height="3.4" rx="0.5"/><rect x="910.68" y="384.22" width="3.1" height="3.4" rx="0.5"/><rect x="912.16" y="384.22" width="3.1" height="3.4" rx="0.5"/><rect x="916.45" y="384.22" width="3.1" height="3.4" rx="0.5"/><rect x="917.93" y="384.22" width="3.1" height="3.4" rx="0.5"/><rect x="919.41" y="384.22" width="3.1" height="3.4" rx="0.5"/><rect x="920.88" y="384.22" width="3.1" height="3.4" rx="0.5"/><rect x="922.36" y="384.22" width="3.1" height="3.4" rx="0.5"/><rect x="923.84" y="384.22" width="3.1" height="3.4" rx="0.5"/><rect x="925.31" y="384.22" width="3.1" height="3.4" rx="0.5"/><rect x="926.79" y="384.22" width="3.1" height="3.4" rx="0.5"/><rect x="928.27" y="384.22" width="3.1" height="3.4" rx="0.5"/><rect x="929.74" y="384.22" width="3.1" height="3.4" rx="0.5"/><rect x="931.22" y="384.22" width="3.1" height="3.4" rx="0.5"/><rect x="932.70" y="384.22" width="3.1" height="3.4" rx="0.5"/><rect x="934.17" y="384.22" width="3.1" height="3.4" rx="0.5"/><rect x="935.65" y="384.22" width="3.1" height="3.4" rx="0.5"/><rect x="937.12" y="384.22" width="3.1" height="3.4" rx="0.5"/><rect x="938.60" y="384.22" width="3.1" height="3.4" rx="0.5"/><rect x="940.08" y="384.22" width="3.1" height="3.4" rx="0.5"/><rect x="941.56" y="384.22" width="3.1" height="3.4" rx="0.5"/><rect x="943.03" y="384.22" width="3.1" height="3.4" rx="0.5"/><rect x="944.51" y="384.22" width="3.1" height="3.4" rx="0.5"/><rect x="945.99" y="384.22" width="3.1" height="3.4" rx="0.5"/><rect x="947.46" y="384.22" width="3.1" height="3.4" rx="0.5"/><rect x="948.94" y="384.22" width="3.1" height="3.4" rx="0.5"/><rect x="950.42" y="384.22" width="3.1" height="3.4" rx="0.5"/><rect x="951.89" y="384.22" width="3.1" height="3.4" rx="0.5"/><rect x="953.37" y="384.22" width="3.1" height="3.4" rx="0.5"/><rect x="954.85" y="384.22" width="3.1" height="3.4" rx="0.5"/><rect x="956.32" y="384.22" width="3.1" height="3.4" rx="0.5"/><rect x="957.80" y="384.22" width="3.1" height="3.4" rx="0.5"/><rect x="975.35" y="384.22" width="3.1" height="3.4" rx="0.5"/><rect x="976.82" y="384.22" width="3.1" height="3.4" rx="0.5"/><rect x="600.43" y="394.16" width="3.1" height="3.4" rx="0.5"/><rect x="601.91" y="394.16" width="3.1" height="3.4" rx="0.5"/><rect x="603.39" y="394.16" width="3.1" height="3.4" rx="0.5"/><rect x="604.86" y="394.16" width="3.1" height="3.4" rx="0.5"/><rect x="606.34" y="394.16" width="3.1" height="3.4" rx="0.5"/><rect x="607.82" y="394.16" width="3.1" height="3.4" rx="0.5"/><rect x="612.33" y="394.16" width="3.1" height="3.4" rx="0.5"/><rect x="613.81" y="394.16" width="3.1" height="3.4" rx="0.5"/><rect x="615.28" y="394.16" width="3.1" height="3.4" rx="0.5"/><rect x="616.76" y="394.16" width="3.1" height="3.4" rx="0.5"/><rect x="622.80" y="394.16" width="3.1" height="3.4" rx="0.5"/><rect x="624.28" y="394.16" width="3.1" height="3.4" rx="0.5"/><rect x="625.76" y="394.16" width="3.1" height="3.4" rx="0.5"/><rect x="631.52" y="394.16" width="3.1" height="3.4" rx="0.5"/><rect x="633.00" y="394.16" width="3.1" height="3.4" rx="0.5"/><rect x="634.47" y="394.16" width="3.1" height="3.4" rx="0.5"/><rect x="638.97" y="394.16" width="3.1" height="3.4" rx="0.5"/><rect x="640.45" y="394.16" width="3.1" height="3.4" rx="0.5"/><rect x="641.92" y="394.16" width="3.1" height="3.4" rx="0.5"/><rect x="649.23" y="394.16" width="3.1" height="3.4" rx="0.5"/><rect x="650.71" y="394.16" width="3.1" height="3.4" rx="0.5"/><rect x="652.18" y="394.16" width="3.1" height="3.4" rx="0.5"/><rect x="653.66" y="394.16" width="3.1" height="3.4" rx="0.5"/><rect x="672.79" y="394.16" width="3.1" height="3.4" rx="0.5"/><rect x="674.27" y="394.16" width="3.1" height="3.4" rx="0.5"/><rect x="675.75" y="394.16" width="3.1" height="3.4" rx="0.5"/><rect x="680.26" y="394.16" width="3.1" height="3.4" rx="0.5"/><rect x="681.74" y="394.16" width="3.1" height="3.4" rx="0.5"/><rect x="683.22" y="394.16" width="3.1" height="3.4" rx="0.5"/><rect x="684.69" y="394.16" width="3.1" height="3.4" rx="0.5"/><rect x="686.17" y="394.16" width="3.1" height="3.4" rx="0.5"/><rect x="687.65" y="394.16" width="3.1" height="3.4" rx="0.5"/><rect x="689.12" y="394.16" width="3.1" height="3.4" rx="0.5"/><rect x="690.60" y="394.16" width="3.1" height="3.4" rx="0.5"/><rect x="692.08" y="394.16" width="3.1" height="3.4" rx="0.5"/><rect x="693.55" y="394.16" width="3.1" height="3.4" rx="0.5"/><rect x="695.03" y="394.16" width="3.1" height="3.4" rx="0.5"/><rect x="696.51" y="394.16" width="3.1" height="3.4" rx="0.5"/><rect x="697.99" y="394.16" width="3.1" height="3.4" rx="0.5"/><rect x="732.03" y="394.16" width="3.1" height="3.4" rx="0.5"/><rect x="733.50" y="394.16" width="3.1" height="3.4" rx="0.5"/><rect x="734.98" y="394.16" width="3.1" height="3.4" rx="0.5"/><rect x="736.46" y="394.16" width="3.1" height="3.4" rx="0.5"/><rect x="737.93" y="394.16" width="3.1" height="3.4" rx="0.5"/><rect x="762.97" y="394.16" width="3.1" height="3.4" rx="0.5"/><rect x="776.29" y="394.16" width="3.1" height="3.4" rx="0.5"/><rect x="777.77" y="394.16" width="3.1" height="3.4" rx="0.5"/><rect x="779.24" y="394.16" width="3.1" height="3.4" rx="0.5"/><rect x="780.72" y="394.16" width="3.1" height="3.4" rx="0.5"/><rect x="793.88" y="394.16" width="3.1" height="3.4" rx="0.5"/><rect x="798.29" y="394.16" width="3.1" height="3.4" rx="0.5"/><rect x="799.77" y="394.16" width="3.1" height="3.4" rx="0.5"/><rect x="801.24" y="394.16" width="3.1" height="3.4" rx="0.5"/><rect x="802.72" y="394.16" width="3.1" height="3.4" rx="0.5"/><rect x="810.24" y="394.16" width="3.1" height="3.4" rx="0.5"/><rect x="811.71" y="394.16" width="3.1" height="3.4" rx="0.5"/><rect x="813.19" y="394.16" width="3.1" height="3.4" rx="0.5"/><rect x="814.67" y="394.16" width="3.1" height="3.4" rx="0.5"/><rect x="816.14" y="394.16" width="3.1" height="3.4" rx="0.5"/><rect x="817.62" y="394.16" width="3.1" height="3.4" rx="0.5"/><rect x="819.10" y="394.16" width="3.1" height="3.4" rx="0.5"/><rect x="820.57" y="394.16" width="3.1" height="3.4" rx="0.5"/><rect x="825.14" y="394.16" width="3.1" height="3.4" rx="0.5"/><rect x="832.13" y="394.16" width="3.1" height="3.4" rx="0.5"/><rect x="833.61" y="394.16" width="3.1" height="3.4" rx="0.5"/><rect x="835.09" y="394.16" width="3.1" height="3.4" rx="0.5"/><rect x="836.56" y="394.16" width="3.1" height="3.4" rx="0.5"/><rect x="838.04" y="394.16" width="3.1" height="3.4" rx="0.5"/><rect x="839.52" y="394.16" width="3.1" height="3.4" rx="0.5"/><rect x="840.99" y="394.16" width="3.1" height="3.4" rx="0.5"/><rect x="842.47" y="394.16" width="3.1" height="3.4" rx="0.5"/><rect x="843.95" y="394.16" width="3.1" height="3.4" rx="0.5"/><rect x="845.42" y="394.16" width="3.1" height="3.4" rx="0.5"/><rect x="846.90" y="394.16" width="3.1" height="3.4" rx="0.5"/><rect x="848.38" y="394.16" width="3.1" height="3.4" rx="0.5"/><rect x="849.85" y="394.16" width="3.1" height="3.4" rx="0.5"/><rect x="851.33" y="394.16" width="3.1" height="3.4" rx="0.5"/><rect x="852.81" y="394.16" width="3.1" height="3.4" rx="0.5"/><rect x="857.54" y="394.16" width="3.1" height="3.4" rx="0.5"/><rect x="859.01" y="394.16" width="3.1" height="3.4" rx="0.5"/><rect x="860.49" y="394.16" width="3.1" height="3.4" rx="0.5"/><rect x="861.97" y="394.16" width="3.1" height="3.4" rx="0.5"/><rect x="863.44" y="394.16" width="3.1" height="3.4" rx="0.5"/><rect x="864.92" y="394.16" width="3.1" height="3.4" rx="0.5"/><rect x="866.40" y="394.16" width="3.1" height="3.4" rx="0.5"/><rect x="867.87" y="394.16" width="3.1" height="3.4" rx="0.5"/><rect x="869.35" y="394.16" width="3.1" height="3.4" rx="0.5"/><rect x="870.83" y="394.16" width="3.1" height="3.4" rx="0.5"/><rect x="872.30" y="394.16" width="3.1" height="3.4" rx="0.5"/><rect x="873.78" y="394.16" width="3.1" height="3.4" rx="0.5"/><rect x="875.26" y="394.16" width="3.1" height="3.4" rx="0.5"/><rect x="876.73" y="394.16" width="3.1" height="3.4" rx="0.5"/><rect x="878.21" y="394.16" width="3.1" height="3.4" rx="0.5"/><rect x="879.69" y="394.16" width="3.1" height="3.4" rx="0.5"/><rect x="884.09" y="394.16" width="3.1" height="3.4" rx="0.5"/><rect x="885.57" y="394.16" width="3.1" height="3.4" rx="0.5"/><rect x="887.04" y="394.16" width="3.1" height="3.4" rx="0.5"/><rect x="888.52" y="394.16" width="3.1" height="3.4" rx="0.5"/><rect x="890.00" y="394.16" width="3.1" height="3.4" rx="0.5"/><rect x="891.47" y="394.16" width="3.1" height="3.4" rx="0.5"/><rect x="892.95" y="394.16" width="3.1" height="3.4" rx="0.5"/><rect x="898.89" y="394.16" width="3.1" height="3.4" rx="0.5"/><rect x="904.67" y="394.16" width="3.1" height="3.4" rx="0.5"/><rect x="906.14" y="394.16" width="3.1" height="3.4" rx="0.5"/><rect x="907.62" y="394.16" width="3.1" height="3.4" rx="0.5"/><rect x="909.10" y="394.16" width="3.1" height="3.4" rx="0.5"/><rect x="913.59" y="394.16" width="3.1" height="3.4" rx="0.5"/><rect x="915.06" y="394.16" width="3.1" height="3.4" rx="0.5"/><rect x="944.52" y="394.16" width="3.1" height="3.4" rx="0.5"/><rect x="568.02" y="404.10" width="3.1" height="3.4" rx="0.5"/><rect x="569.49" y="404.10" width="3.1" height="3.4" rx="0.5"/><rect x="570.97" y="404.10" width="3.1" height="3.4" rx="0.5"/><rect x="572.45" y="404.10" width="3.1" height="3.4" rx="0.5"/><rect x="573.92" y="404.10" width="3.1" height="3.4" rx="0.5"/><rect x="630.03" y="404.10" width="3.1" height="3.4" rx="0.5"/><rect x="636.08" y="404.10" width="3.1" height="3.4" rx="0.5"/><rect x="637.56" y="404.10" width="3.1" height="3.4" rx="0.5"/><rect x="639.04" y="404.10" width="3.1" height="3.4" rx="0.5"/><rect x="640.51" y="404.10" width="3.1" height="3.4" rx="0.5"/><rect x="647.84" y="404.10" width="3.1" height="3.4" rx="0.5"/><rect x="686.25" y="404.10" width="3.1" height="3.4" rx="0.5"/><rect x="566.44" y="414.04" width="3.1" height="3.4" rx="0.5"/><rect x="575.44" y="414.04" width="3.1" height="3.4" rx="0.5"/><rect x="576.92" y="414.04" width="3.1" height="3.4" rx="0.5"/></g>
<g stroke="#939393" stroke-width="1" fill="none"><line x1="96.85" y1="560.5" x2="96.85" y2="719.5"/><line x1="132.31" y1="560.5" x2="132.31" y2="719.5"/><line x1="167.78" y1="560.5" x2="167.78" y2="719.5"/><line x1="203.25" y1="560.5" x2="203.25" y2="719.5"/><line x1="238.71" y1="560.5" x2="238.71" y2="719.5"/><line x1="274.18" y1="560.5" x2="274.18" y2="719.5"/><line x1="309.64" y1="560.5" x2="309.64" y2="719.5"/><line x1="345.11" y1="560.5" x2="345.11" y2="719.5"/><line x1="380.57" y1="560.5" x2="380.57" y2="719.5"/><line x1="416.04" y1="560.5" x2="416.04" y2="719.5"/><line x1="451.50" y1="560.5" x2="451.50" y2="719.5"/><line x1="61.5" y1="703.05" x2="486.5" y2="703.05"/><line x1="61.5" y1="687.15" x2="486.5" y2="687.15"/><line x1="61.5" y1="671.25" x2="486.5" y2="671.25"/><line x1="61.5" y1="655.35" x2="486.5" y2="655.35"/><line x1="61.5" y1="639.45" x2="486.5" y2="639.45"/><line x1="61.5" y1="623.55" x2="486.5" y2="623.55"/><line x1="61.5" y1="607.65" x2="486.5" y2="607.65"/><line x1="61.5" y1="591.75" x2="486.5" y2="591.75"/><line x1="61.5" y1="575.85" x2="486.5" y2="575.85"/></g>
<rect x="61.5" y="560.5" width="425.00" height="159" fill="none" stroke="#404040" stroke-width="1"/>
<text x="273.9" y="548.2" font-size="15.83" text-anchor="middle">24 hour Accumulated Rainfall or Snow Melt</text>
<g font-size="11.5"><text x="61.2" y="734" text-anchor="middle">0</text><text x="96.6" y="734" text-anchor="middle">2</text><text x="132.1" y="734" text-anchor="middle">4</text><text x="167.6" y="734" text-anchor="middle">6</text><text x="203.0" y="734" text-anchor="middle">8</text><text x="238.5" y="734" text-anchor="middle">10</text><text x="274.0" y="734" text-anchor="middle">12</text><text x="309.4" y="734" text-anchor="middle">14</text><text x="344.9" y="734" text-anchor="middle">16</text><text x="380.4" y="734" text-anchor="middle">18</text><text x="415.8" y="734" text-anchor="middle">20</text><text x="451.3" y="734" text-anchor="middle">22</text><text x="486.8" y="734" text-anchor="middle">24</text><text x="55.3" y="723" text-anchor="end">0.0</text><text x="55.3" y="707" text-anchor="end">0.01</text><text x="55.3" y="691" text-anchor="end">0.02</text><text x="55.3" y="675" text-anchor="end">0.03</text><text x="55.3" y="659" text-anchor="end">0.04</text><text x="55.3" y="643" text-anchor="end">0.05</text><text x="55.3" y="628" text-anchor="end">0.06</text><text x="55.3" y="612" text-anchor="end">0.07</text><text x="55.3" y="596" text-anchor="end">0.08</text><text x="55.3" y="580" text-anchor="end">0.09</text><text x="55.3" y="564" text-anchor="end">0.1</text></g>
<text transform="translate(26,639.6) rotate(-90)" font-size="14" text-anchor="middle">Inches</text>
<text x="273.9" y="753" font-size="15.83" text-anchor="middle">Local Time (hour)</text>
<path d="M61.4,719 L485.3,719" fill="none" stroke="#f00" stroke-width="1"/>
<path d="M61,719.5 L487,719.5" fill="none" stroke="#404040" stroke-opacity="0.3" stroke-width="1"/>
<g stroke="#939393" stroke-width="1" fill="none"><line x1="603.51" y1="560.5" x2="603.51" y2="719.5"/><line x1="638.95" y1="560.5" x2="638.95" y2="719.5"/><line x1="674.39" y1="560.5" x2="674.39" y2="719.5"/><line x1="709.83" y1="560.5" x2="709.83" y2="719.5"/><line x1="745.27" y1="560.5" x2="745.27" y2="719.5"/><line x1="780.71" y1="560.5" x2="780.71" y2="719.5"/><line x1="816.15" y1="560.5" x2="816.15" y2="719.5"/><line x1="851.59" y1="560.5" x2="851.59" y2="719.5"/><line x1="887.03" y1="560.5" x2="887.03" y2="719.5"/><line x1="922.47" y1="560.5" x2="922.47" y2="719.5"/><line x1="957.91" y1="560.5" x2="957.91" y2="719.5"/><line x1="568.07" y1="694.49" x2="993.5" y2="694.49"/><line x1="568.07" y1="670.03" x2="993.5" y2="670.03"/><line x1="568.07" y1="645.57" x2="993.5" y2="645.57"/><line x1="568.07" y1="621.10" x2="993.5" y2="621.10"/><line x1="568.07" y1="596.64" x2="993.5" y2="596.64"/><line x1="568.07" y1="572.18" x2="993.5" y2="572.18"/></g>
<rect x="568.07" y="560.5" width="425.43" height="159" fill="none" stroke="#404040" stroke-width="1"/>
<text x="780.8" y="548.2" font-size="15.83" text-anchor="middle">Solar Irradiance</text>
<g font-size="11.5"><text x="567.9" y="734" text-anchor="middle">0</text><text x="603.3" y="734" text-anchor="middle">2</text><text x="638.8" y="734" text-anchor="middle">4</text><text x="674.2" y="734" text-anchor="middle">6</text><text x="709.6" y="734" text-anchor="middle">8</text><text x="745.1" y="734" text-anchor="middle">10</text><text x="780.5" y="734" text-anchor="middle">12</text><text x="816.0" y="734" text-anchor="middle">14</text><text x="851.4" y="734" text-anchor="middle">16</text><text x="886.8" y="734" text-anchor="middle">18</text><text x="922.3" y="734" text-anchor="middle">20</text><text x="957.7" y="734" text-anchor="middle">22</text><text x="993.1" y="734" text-anchor="middle">24</text><text x="561.3" y="723" text-anchor="end">0</text><text x="561.3" y="698" text-anchor="end">200</text><text x="561.3" y="674" text-anchor="end">400</text><text x="561.3" y="650" text-anchor="end">600</text><text x="561.3" y="625" text-anchor="end">800</text><text x="561.3" y="601" text-anchor="end">1000</text><text x="561.3" y="576" text-anchor="end">1200</text></g>
<text transform="translate(530,639.6) rotate(-90)" font-size="14" text-anchor="middle">W/m<tspan dy="-7.5" font-size="9.3">2</tspan></text>
<path d="M567.9,719.3 L660.0,719.3 L670.2,719.3 L673.9,718.2 L678.7,716.0 L682.0,713.7 L685.2,711.2 L688.1,709.4 L690.0,707.7 L691.6,707.5 L693.7,710.9 L695.9,711.5 L698.0,710.7 L699.4,704.3 L700.7,696.8 L702.8,696.2 L705.0,692.5 L707.1,688.4 L709.8,685.0 L712.5,681.2 L714.6,678.8 L716.2,678.2 L717.5,675.9 L718.7,698.9 L720.2,695.7 L721.3,680.7 L722.3,672.1 L723.4,667.3 L724.5,672.7 L725.9,667.9 L727.5,662.7 L730.7,660.4 L733.9,657.7 L736.6,654.5 L739.3,650.5 L741.9,646.4 L744.6,644.1 L747.3,642.1 L750.0,640.3 L752.6,636.4 L755.3,634.3 L758.5,631.4 L761.8,628.9 L765.5,626.6 L766.0,626.6 L770.3,624.5 L774.6,622.1 L778.9,620.5 L783.1,618.4 L787.4,617.3 L792.8,615.9 L798.1,615.5 L803.5,615.3 L807.8,615.4 L812.1,616.2 L817.4,617.9 L822.8,619.8 L828.1,622.7 L833.5,625.9 L838.8,629.4 L844.2,633.4 L849.5,637.1 L853.8,640.9 L859.2,645.7 L864.5,651.0 L869.9,655.9 L872.0,658.4 L876.3,663.6 L882.7,670.0 L887.5,675.9 L891.3,680.2 L895.0,685.0 L898.8,688.7 L903.1,693.5 L907.4,698.4 L911.6,703.2 L915.9,707.5 L919.1,710.7 L920.7,713.9 L922.3,716.6 L925.5,717.3 L929.8,718.4 L933.0,719.3 L982.0,719.3 L993.0,719.3" fill="none" stroke="#f00" stroke-width="1.02" stroke-opacity="0.86" stroke-linejoin="miter" stroke-miterlimit="7"/>
<path d="M568,719.5 L672,719.5 M934,719.5 L994,719.5" fill="none" stroke="#404040" stroke-opacity="0.3" stroke-width="1"/>
</svg>
</body></html>
